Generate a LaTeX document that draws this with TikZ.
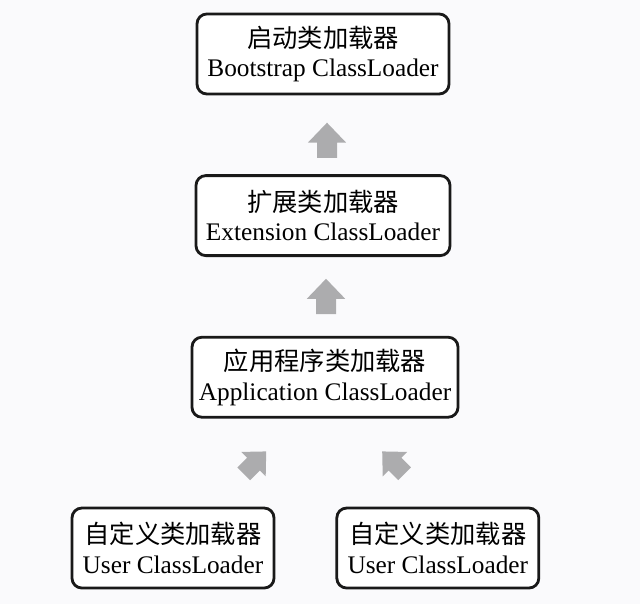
\documentclass[tikz,border=0pt]{standalone}
\usepackage{fontspec}
\setmainfont{Liberation Serif}
\newfontfamily\cjk{Noto Sans CJK SC}
\usepackage{xcolor}
\usetikzlibrary{positioning,calc}

\definecolor{bggrey}{RGB}{250,250,252}
\definecolor{arrowgrey}{RGB}{172,172,174}

\tikzset{
  blockarrow/.pic={
    \fill[arrowgrey] (-0.25,-0.44) -- (-0.25,-0.06) -- (-0.48,-0.06) -- (0,0.44)
      -- (0.48,-0.06) -- (0.25,-0.06) -- (0.25,-0.44) -- cycle;}
}

\begin{document}
\begin{tikzpicture}[
  font=\fontsize{18}{21}\selectfont,
  box/.style={
     rectangle, rounded corners=7pt,
     draw=black!90, line width=2pt,
     fill=white,
     align=center, inner sep=2pt,
     minimum height=2cm},
  node distance=1.97cm]
\fill[bggrey] (0,0) rectangle (16,15.1);
\useasboundingbox (0,0) rectangle (16,15.1);
% chain of loaders
\node[box,minimum width=6.3cm] (boot) at (8.075,13.75) {{\cjk 启动类加载器}\\Bootstrap ClassLoader};
\node[box,minimum width=6.35cm,below=of boot] (ext) {{\cjk 扩展类加载器}\\Extension ClassLoader};
\node[box,minimum width=6.65cm,below=of ext,xshift=0.05cm] (app) {{\cjk 应用程序类加载器}\\Application ClassLoader};
% user loaders
\node[box,minimum width=5.05cm,below=2.2cm of app,xshift=-3.8cm] (user1) {{\cjk 自定义类加载器}\\User ClassLoader};
\node[box,minimum width=5.05cm,right=1.5cm of user1] (user2) {{\cjk 自定义类加载器}\\User ClassLoader};
% grey arrows
\pic at ($(boot.south)!0.57!(ext.north)+(0.1,0)$) {blockarrow};
\pic at ($(ext.south)!0.5!(app.north)+(0.05,0)$) {blockarrow};
\pic[rotate=-45,scale=0.9] at ($(user1.north)!0.5!(app.south)+(0.15,0)$) {blockarrow};
\pic[rotate=45,scale=0.9] at ($(user2.north)!0.5!(app.south)+(0.3,0)$) {blockarrow};
\end{tikzpicture}
\end{document}
